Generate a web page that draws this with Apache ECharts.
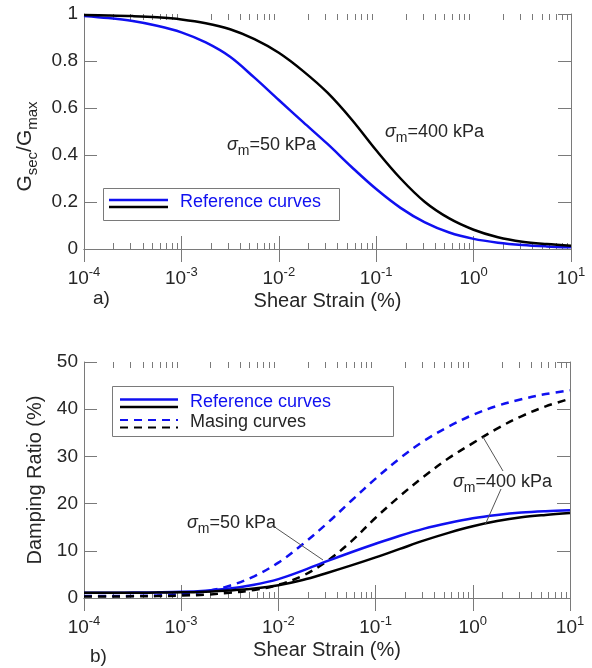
<!DOCTYPE html>
<html>
<head>
<meta charset="utf-8">
<script src="https://cdn.jsdelivr.net/npm/echarts@6/dist/echarts.min.js"></script>
<style>
html, body { margin: 0; padding: 0; background: #fff; }
#chart { width: 592px; height: 668px; }
</style>
</head>
<body>
<div id="chart"></div>
<script>
// shear strain (%), quarter-decade steps
const strain = [1e-4, 1.778e-4, 3.162e-4, 5.623e-4, 1e-3, 1.778e-3, 3.162e-3, 5.623e-3,
    1e-2, 1.778e-2, 3.162e-2, 5.623e-2, 0.1, 0.1778, 0.3162, 0.5623, 1, 1.778, 3.162, 5.623, 10];

// a) Gsec/Gmax
const gRef50 = [0.992, 0.983, 0.97, 0.95, 0.922, 0.879, 0.818, 0.729, 0.634, 0.54, 0.447,
    0.348, 0.255, 0.175, 0.113, 0.07, 0.043, 0.027, 0.017, 0.011, 0.007];
const gRef400 = [0.996, 0.994, 0.991, 0.986, 0.977, 0.961, 0.935, 0.893, 0.835, 0.757, 0.665,
    0.55, 0.42, 0.30, 0.20, 0.13, 0.082, 0.05, 0.031, 0.021, 0.014];

// b) damping ratio (%)
const dRef50 = [1.1, 1.1, 1.15, 1.2, 1.3, 1.55, 2.0, 2.8, 4.0, 5.8, 7.8, 9.7, 11.5, 13.2,
    14.7, 15.9, 16.9, 17.6, 18.1, 18.4, 18.6];
const dRef400 = [1.1, 1.1, 1.1, 1.15, 1.2, 1.35, 1.6, 2.0, 2.7, 3.8, 5.3, 6.9, 8.6, 10.4,
    12.2, 13.8, 15.2, 16.3, 17.1, 17.6, 18.0];
const dMasing50 = [0.4, 0.4, 0.45, 0.55, 0.8, 1.4, 2.6, 4.6, 7.5, 11.4, 15.8, 20.6, 25.3,
    29.6, 33.3, 36.3, 38.8, 40.7, 42.1, 43.2, 44.0];
const dMasing400 = [0.3, 0.3, 0.35, 0.4, 0.5, 0.7, 1.1, 1.7, 2.8, 4.7, 7.8, 12.0, 17.0,
    21.6, 25.8, 29.6, 32.8, 35.9, 38.5, 40.6, 42.2];

const xTickExp = ['-4', '-3', '-2', '-1', '0', '1'];
const minorDecades = [1e-4, 1e-3, 1e-2, 1e-1, 1];
const minorMult = [2, 3, 4, 5, 6, 7, 8, 9];

const FONT = 'Liberation Sans, Arial, Helvetica, sans-serif';
const AXIS = '#7a7a7a';
const TXT = '#262626';
const BLUE = '#1010f0';

let minorTicks = [];
minorDecades.forEach(d => minorMult.forEach(m => minorTicks.push([+(m * d).toPrecision(3), 0])));

function pairs(ys) {
    return strain.map((s, i) => [s, ys[i]]);
}

let chart = echarts.init(document.getElementById('chart'));

function logAxis(grid, pos, labels, name) {
    return {
        type: 'log',
        logBase: 10,
        gridIndex: grid,
        position: pos,
        min: 1e-4,
        max: 10,
        interval: 1,
        name: name || '',
        nameLocation: 'middle',
        nameGap: 42,
        nameTextStyle: { fontFamily: FONT, fontSize: 20, color: TXT },
        axisLine: { show: true, lineStyle: { color: AXIS, width: 1 } },
        axisTick: { show: true, inside: true, length: 13, lineStyle: { color: AXIS } },
        splitLine: { show: false },
        minorTick: { show: false },
        axisLabel: {
            show: labels,
            margin: 17,
            formatter: (v, i) => '{b|10}{p|' + xTickExp[i] + '}',
            rich: {
                b: { fontFamily: FONT, fontSize: 19, color: TXT, lineHeight: 26 },
                p: { fontFamily: FONT, fontSize: 13, color: TXT, lineHeight: 12, verticalAlign: 'top' }
            }
        }
    };
}

function valAxis(grid, pos, max, step, labels, name, gap, pad) {
    return {
        type: 'value',
        gridIndex: grid,
        position: pos,
        min: 0,
        max: max,
        interval: step,
        name: name || '',
        nameLocation: 'middle',
        nameGap: gap || 40,
        nameTextStyle: {
            fontFamily: FONT, fontSize: 20, color: TXT,
            padding: pad || 0,
            rich: {
                b: { fontFamily: FONT, fontSize: 21, color: TXT, lineHeight: 30 },
                s: { fontFamily: FONT, fontSize: 15, color: TXT, lineHeight: 14, verticalAlign: 'bottom' }
            }
        },
        axisLine: { show: true, lineStyle: { color: AXIS, width: 1 } },
        axisTick: { show: true, inside: true, length: 13, lineStyle: { color: AXIS } },
        splitLine: { show: false },
        axisLabel: { show: labels, margin: 6, fontFamily: FONT, fontSize: 19, color: TXT }
    };
}

function minorSeries(grid) {
    return {
        type: 'custom',
        xAxisIndex: grid * 2,
        yAxisIndex: grid * 2,
        silent: true,
        clip: false,
        z: 1,
        data: minorTicks,
        renderItem: function (params, api) {
            let cs = params.coordSys;
            let p = api.coord([api.value(0), 0]);
            let x = Math.round(p[0]) + 0.5;
            let yb = cs.y + cs.height;
            return {
                type: 'group',
                children: [
                    { type: 'line', shape: { x1: x, y1: yb, x2: x, y2: yb - 6 }, style: { stroke: AXIS, lineWidth: 1 } },
                    { type: 'line', shape: { x1: x, y1: cs.y, x2: x, y2: cs.y + 6 }, style: { stroke: AXIS, lineWidth: 1 } }
                ]
            };
        }
    };
}

function curve(grid, ys, color, dashed) {
    return {
        type: 'line',
        xAxisIndex: grid * 2,
        yAxisIndex: grid * 2,
        data: pairs(ys),
        smooth: 0.35,
        showSymbol: false,
        silent: true,
        z: 3,
        lineStyle: { color: color, width: 2.5, type: dashed ? [8, 6] : 'solid' }
    };
}

function sigmaLabel(x, y, rest) {
    return {
        type: 'text',
        x: x,
        y: y,
        z: 10,
        style: {
            text: '{i|σ}{s|m}{n|' + rest + '}',
            verticalAlign: 'middle',
            rich: {
                i: { fontFamily: FONT, fontStyle: 'italic', fontSize: 18, fill: TXT, lineHeight: 26 },
                s: { fontFamily: FONT, fontSize: 14, fill: TXT, lineHeight: 12, verticalAlign: 'bottom' },
                n: { fontFamily: FONT, fontSize: 18, fill: TXT, lineHeight: 26 }
            }
        }
    };
}

function seg(x1, y1, x2, y2, color, width, dash) {
    return {
        type: 'line',
        z: 10,
        shape: { x1: x1, y1: y1, x2: x2, y2: y2 },
        style: { stroke: color, lineWidth: width, lineDash: dash || null }
    };
}

let option = {
    animation: false,
    backgroundColor: '#fff',
    grid: [
        { left: 84, top: 14, width: 487, height: 235 },
        { left: 84, top: 362, width: 486, height: 236 }
    ],
    xAxis: [
        logAxis(0, 'bottom', true, 'Shear Strain (%)'),
        logAxis(0, 'top', false),
        logAxis(1, 'bottom', true, 'Shear Strain (%)'),
        logAxis(1, 'top', false)
    ],
    yAxis: [
        valAxis(0, 'left', 1, 0.2, true, '{b|G}{s|sec}{b|/G}{s|max}', 42, [0, 30, 0, 0]),
        valAxis(0, 'right', 1, 0.2, false),
        valAxis(1, 'left', 50, 10, true, 'Damping Ratio (%)', 37),
        valAxis(1, 'right', 50, 10, false)
    ],
    series: [
        minorSeries(0),
        minorSeries(1),
        curve(0, gRef50, BLUE, false),
        curve(0, gRef400, '#000', false),
        curve(1, dMasing50, BLUE, true),
        curve(1, dMasing400, '#000', true),
        curve(1, dRef50, BLUE, false),
        curve(1, dRef400, '#000', false)
    ],
    graphic: [
        // a) legend
        { type: 'rect', z: 9, shape: { x: 103.5, y: 188.5, width: 236, height: 32 }, style: { fill: '#fff', stroke: AXIS, lineWidth: 1 } },
        seg(109, 200, 168, 200, BLUE, 2.5),
        seg(109, 207, 168, 207, '#000', 2.5),
        { type: 'text', z: 10, x: 180, y: 202, style: { text: 'Reference curves', fontFamily: FONT, fontSize: 18, fill: BLUE, verticalAlign: 'middle' } },
        sigmaLabel(227, 145, '=50 kPa'),
        sigmaLabel(385, 132, '=400 kPa'),
        { type: 'text', z: 10, x: 93, y: 299, style: { text: 'a)', fontFamily: FONT, fontSize: 19, fill: TXT, verticalAlign: 'middle' } },

        // b) legend
        { type: 'rect', z: 9, shape: { x: 112.5, y: 386.5, width: 281, height: 50 }, style: { fill: '#fff', stroke: AXIS, lineWidth: 1 } },
        seg(120, 399.5, 178, 399.5, BLUE, 2.5),
        seg(120, 407, 178, 407, '#000', 2.5),
        seg(120, 420, 178, 420, BLUE, 2, [8, 6]),
        seg(120, 427.5, 178, 427.5, '#000', 2, [8, 6]),
        { type: 'text', z: 10, x: 190, y: 402, style: { text: 'Reference curves', fontFamily: FONT, fontSize: 18, fill: BLUE, verticalAlign: 'middle' } },
        { type: 'text', z: 10, x: 190, y: 422, style: { text: 'Masing curves', fontFamily: FONT, fontSize: 18, fill: TXT, verticalAlign: 'middle' } },
        sigmaLabel(187, 523, '=50 kPa'),
        seg(276, 528, 323, 560, '#555', 1),
        sigmaLabel(453, 482, '=400 kPa'),
        seg(503, 471, 483, 437, '#555', 1),
        seg(501, 489, 485, 525, '#555', 1),
        { type: 'text', z: 10, x: 90, y: 657, style: { text: 'b)', fontFamily: FONT, fontSize: 19, fill: TXT, verticalAlign: 'middle' } }
    ]
};

chart.setOption(option);
</script>
</body>
</html>
